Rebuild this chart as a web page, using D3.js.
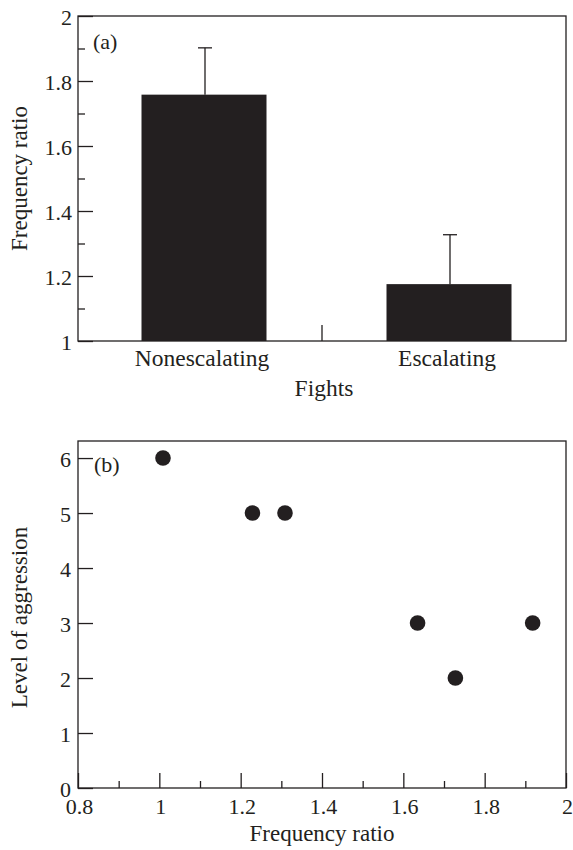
<!DOCTYPE html>
<html lang="en">
<head>
<script type="text/javascript" src="https://cdnjs.cloudflare.com/ajax/libs/d3/7.8.5/d3.min.js"></script>
<style>
    body { margin: 0; background: #fff; }
    text { font-family: "Liberation Serif", "Times New Roman", serif; fill: #231f20; }
</style>
</head>
<body>
<div id="container"></div>
<script type="text/javascript">
    var w = 573;
    var h = 850;
    var ink = "#231f20";

    // panel (a)
    var fights = ["Nonescalating", "Escalating"];
    var ratioMeans = [1.758, 1.175];
    var ratioErrTop = [1.902, 1.327];
    var ratioTicks = [1, 1.2, 1.4, 1.6, 1.8, 2];
    var ratioMinor = [1.1, 1.3, 1.5, 1.7, 1.9];

    // panel (b)
    var pointRatio = [1.009, 1.229, 1.309, 1.635, 1.728, 1.918];
    var pointAggression = [6, 5, 5, 3, 2, 3];
    var aggTicks = [0, 1, 2, 3, 4, 5, 6];
    var freqTicks = [0.8, 1, 1.2, 1.4, 1.6, 1.8, 2];
    var freqMinor = [0.9, 1.1, 1.3, 1.5, 1.7, 1.9];

    var svg = d3.select("#container")
                .append("svg")
                .attr("width", w)
                .attr("height", h);

    var left = 78, right = 566;
    var fmt = function(d) { return String(+d.toFixed(1)); };

    // ---------- panel (a) ----------
    var aTop = 16, aBottom = 341;
    var ya = d3.scaleLinear().domain([1, 2]).range([aBottom, aTop]);
    var xa = d3.scalePoint().domain(fights).range([204, 449]);
    var barW = 125;

    var ga = svg.append("g");

    ga.selectAll("rect.bar")
        .data(fights)
        .enter()
        .append("rect")
        .attr("class", "bar")
        .attr("x", function(d) { return xa(d) - barW / 2; })
        .attr("y", function(d, i) { return ya(ratioMeans[i]); })
        .attr("width", barW)
        .attr("height", function(d, i) { return aBottom - ya(ratioMeans[i]); })
        .attr("fill", ink);

    ga.selectAll("line.err")
        .data(fights)
        .enter()
        .append("line")
        .attr("class", "err")
        .attr("x1", function(d) { return xa(d) + 1; })
        .attr("x2", function(d) { return xa(d) + 1; })
        .attr("y1", function(d, i) { return ya(ratioMeans[i]); })
        .attr("y2", function(d, i) { return ya(ratioErrTop[i]); })
        .attr("stroke", ink).attr("stroke-width", 1.3);

    ga.selectAll("line.cap")
        .data(fights)
        .enter()
        .append("line")
        .attr("class", "cap")
        .attr("x1", function(d) { return xa(d) + 1 - 7; })
        .attr("x2", function(d) { return xa(d) + 1 + 7; })
        .attr("y1", function(d, i) { return ya(ratioErrTop[i]); })
        .attr("y2", function(d, i) { return ya(ratioErrTop[i]); })
        .attr("stroke", ink).attr("stroke-width", 1.3);

    var yaAxis = ga.append("g")
        .attr("transform", "translate(" + left + ",0)")
        .call(d3.axisLeft(ya).tickValues(ratioTicks).tickSize(-15).tickPadding(6).tickFormat(fmt));
    var yaMinor = ga.append("g")
        .attr("transform", "translate(" + left + ",0)")
        .call(d3.axisLeft(ya).tickValues(ratioMinor).tickSize(-7).tickFormat(""));

    [yaAxis, yaMinor].forEach(function(g) {
        g.attr("font-family", null).attr("font-size", null);
        g.select(".domain").remove();
        g.selectAll("line").attr("stroke", ink).attr("stroke-width", 1.3);
        g.selectAll("text").attr("font-size", 22).attr("dy", "0.38em").attr("fill", ink);
    });

    // separator tick on the bottom axis
    ga.append("line")
        .attr("x1", (left + right) / 2).attr("x2", (left + right) / 2)
        .attr("y1", aBottom).attr("y2", aBottom - 16)
        .attr("stroke", ink).attr("stroke-width", 1.3);

    ga.append("rect")
        .attr("x", left).attr("y", aTop)
        .attr("width", right - left).attr("height", aBottom - aTop)
        .attr("fill", "none").attr("stroke", ink).attr("stroke-width", 1.3);

    ga.selectAll("text.cat")
        .data(fights)
        .enter()
        .append("text")
        .attr("class", "cat")
        .attr("x", function(d) { return xa(d) - 2; })
        .attr("y", aBottom + 25)
        .attr("text-anchor", "middle")
        .attr("font-size", 23.5)
        .text(function(d) { return d; });

    ga.append("text")
        .attr("x", (left + right) / 2 + 2).attr("y", 396)
        .attr("text-anchor", "middle").attr("font-size", 23.5)
        .text("Fights");

    ga.append("text")
        .attr("transform", "translate(27," + (aTop + aBottom) / 2 + ") rotate(-90)")
        .attr("text-anchor", "middle").attr("font-size", 23)
        .text("Frequency ratio");

    ga.append("text")
        .attr("x", 93).attr("y", 49)
        .attr("font-size", 22)
        .text("(a)");

    // ---------- panel (b) ----------
    var bTop = 441, bBottom = 788;
    var yb = d3.scaleLinear().domain([0, 6.31]).range([bBottom, bTop]);
    var xb = d3.scaleLinear().domain([0.8, 2]).range([left, right]);

    var gb = svg.append("g");

    var ybAxis = gb.append("g")
        .attr("transform", "translate(" + left + ",0)")
        .call(d3.axisLeft(yb).tickValues(aggTicks).tickSize(-15).tickPadding(7).tickFormat(d3.format("d")));
    var xbAxis = gb.append("g")
        .attr("transform", "translate(0," + bBottom + ")")
        .call(d3.axisBottom(xb).tickValues(freqTicks).tickSize(-15).tickFormat(fmt));
    var xbMinor = gb.append("g")
        .attr("transform", "translate(0," + bBottom + ")")
        .call(d3.axisBottom(xb).tickValues(freqMinor).tickSize(-7).tickFormat(""));

    [ybAxis, xbAxis, xbMinor].forEach(function(g) {
        g.attr("font-family", null).attr("font-size", null);
        g.select(".domain").remove();
        g.selectAll("line").attr("stroke", ink).attr("stroke-width", 1.3);
        g.selectAll("text").attr("font-size", 22).attr("fill", ink);
    });
    ybAxis.selectAll("text").attr("dy", "0.38em");
    xbAxis.selectAll("text").attr("y", 26).attr("dy", null).attr("dx", 1);

    gb.append("rect")
        .attr("x", left).attr("y", bTop)
        .attr("width", right - left).attr("height", bBottom - bTop)
        .attr("fill", "none").attr("stroke", ink).attr("stroke-width", 1.3);

    gb.selectAll("circle")
        .data(pointRatio)
        .enter()
        .append("circle")
        .attr("cx", function(d) { return xb(d); })
        .attr("cy", function(d, i) { return yb(pointAggression[i]); })
        .attr("r", 7.8)
        .attr("fill", ink);

    gb.append("text")
        .attr("x", (left + right) / 2).attr("y", 841)
        .attr("text-anchor", "middle").attr("font-size", 23)
        .text("Frequency ratio");

    gb.append("text")
        .attr("transform", "translate(27," + ((bTop + bBottom) / 2 + 3) + ") rotate(-90)")
        .attr("text-anchor", "middle").attr("font-size", 23)
        .text("Level of aggression");

    gb.append("text")
        .attr("x", 94).attr("y", 472)
        .attr("font-size", 22)
        .text("(b)");
</script>
</body>
</html>
